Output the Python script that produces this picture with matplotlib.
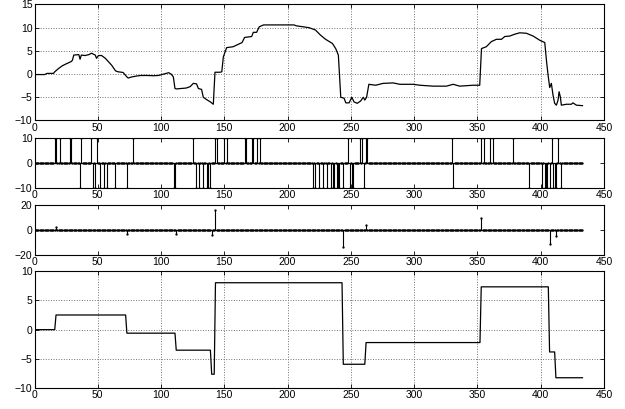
import numpy as np
import matplotlib
matplotlib.use('Agg')
import matplotlib.pyplot as plt

plt.rcParams['font.family'] = ['Liberation Sans', 'DejaVu Sans']
plt.rcParams['font.size'] = 7.5

# raw signal, knots
raw_x = [0, 8, 10, 15, 16, 19, 22, 25, 29, 30, 31, 35, 36, 37, 40, 43, 45, 48, 49, 50.5, 53,
         56, 58, 61, 64, 66, 70, 73, 74, 77, 81, 84, 89, 94, 98, 102, 106, 108, 109.7, 111, 112,
         120, 123, 125.5, 128, 129.5, 132, 133.4, 136, 139, 141.3, 142.6, 146.6, 148, 149.2,
         151.8, 157, 161, 164, 166, 171.6, 172.9, 175.5, 177.6, 181, 190, 205, 207, 211.8, 217,
         222, 226, 230, 235.4, 238, 240.1, 241.2, 242, 244.6, 246, 248.6, 250.7, 252.5, 255,
         257.7, 259.8, 261, 262.4, 264.2, 269.6, 275.5, 283.4, 288.7, 299.2, 304.5, 315, 325.5,
         330.8, 336, 346.6, 351.8, 353.2, 357, 361, 365, 369, 371.6, 375.5, 379.5, 383.4, 388.7,
         394, 399.2, 403.2, 404.5, 405.8, 407.1, 408.4, 409.7, 411, 412.4, 413.7, 414.5, 415.5,
         416.3, 420.3, 424.2, 425.5, 428.2, 433]
raw_y = [-0.1, -0.1, 0.15, 0.15, 0.5, 1.2, 1.8, 2.2, 2.7, 3.0, 4.1, 4.2, 3.2, 4.1, 4.0, 4.2, 4.5, 4.1,
         3.4, 4.0, 4.0, 3.4, 2.8, 1.9, 0.7, 0.5, 0.35, -0.6, -0.85, -0.6, -0.4, -0.3, -0.3, -0.35,
         -0.3, 0.0, 0.3, 0.0, -0.6, -3.1, -3.2, -3.0, -2.7, -2.0, -2.1, -3.1, -3.3, -5.0, -5.5,
         -6.0, -6.5, 0.4, 0.4, 0.5, 3.7, 5.7, 5.9, 6.4, 6.8, 7.9, 8.1, 9.0, 9.0, 10.2, 10.6,
         10.6, 10.6, 10.4, 10.2, 10.0, 9.5, 8.4, 7.5, 6.6, 5.5, 4.1, -1.3, -5.0, -5.2, -6.2,
         -6.2, -5.0, -6.0, -6.3, -5.8, -5.0, -5.6, -5.0, -2.2, -2.4, -2.0, -1.9, -2.2, -2.2,
         -2.4, -2.6, -2.6, -2.2, -2.6, -2.4, -2.4, 5.5, 5.9, 7.0, 7.5, 7.5, 8.1, 8.2, 8.6, 8.9,
         8.8, 8.2, 7.3, 6.8, 3.0, -0.2, -2.9, -2.0, -4.5, -6.3, -6.7, -5.6, -3.8, -4.9, -6.7,
         -6.5, -6.5, -6.2, -6.7, -6.8]

# event panel: samples at +10 and -10
n_samples = 434
up_idx = [16, 17, 20, 28, 29, 37, 45, 49, 78, 125, 143, 144, 150, 152, 166, 167, 172, 173,
          176, 178, 248, 257, 259, 262, 263, 330, 353, 355, 360, 362, 378, 409, 414]
down_idx = [36, 46, 48, 52, 55, 57, 64, 73, 110, 111, 128, 130, 133, 136, 137, 139, 220, 222,
            225, 228, 231, 234, 236, 237, 239, 240, 241, 244, 249, 251, 252, 260, 331, 391,
            401, 403, 404, 405, 407, 410, 411, 412, 416]

# piecewise constant fit
seg_start = [0, 17, 73, 112, 140, 143, 244, 262, 353, 407, 412]
seg_level = [0, 2.5, -0.6, -3.5, -7.6, 8.0, -5.9, -2.2, 7.3, -3.8, -8.2]

events = np.zeros(n_samples)
events[up_idx] = 10
events[down_idx] = -10

lengths = np.diff(seg_start + [n_samples])
steps = np.repeat(seg_level, lengths)
jumps = np.diff(steps, prepend=steps[0])
t = np.arange(n_samples)

fig = plt.figure(figsize=(6.25, 4.09), dpi=100)
L, W = 0.0552, 0.9112
ax1 = fig.add_axes([L, 0.7054, W, 0.2836])
ax2 = fig.add_axes([L, 0.5403, W, 0.1223])
ax3 = fig.add_axes([L, 0.3765, W, 0.1223])
ax4 = fig.add_axes([L, 0.0506, W, 0.2868])

ax1.plot(raw_x, raw_y, color='k', lw=0.9)

for ax, sig in ((ax2, events), (ax3, jumps)):
    ml, sl, bl = ax.stem(t, sig, linefmt='k-', markerfmt='k.', basefmt='k-')
    ml.set_markersize(1.3)
    sl.set_linewidth(0.8)
    bl.set_linewidth(0.9)
    bl.set_xdata([0, n_samples - 1])

ax4.plot(t, steps, color='k', lw=0.9)

ax1.set_ylim(-10, 15)
ax1.set_yticks([-10, -5, 0, 5, 10, 15])
ax2.set_ylim(-10, 10)
ax2.set_yticks([-10, 0, 10])
ax3.set_ylim(-20, 20)
ax3.set_yticks([-20, 0, 20])
ax4.set_ylim(-10, 10)
ax4.set_yticks([-10, -5, 0, 5, 10])

for ax in (ax1, ax2, ax3, ax4):
    ax.set_xlim(0, 450)
    ax.set_xticks(range(0, 451, 50))
    ax.tick_params(direction='in', top=True, right=True, length=3, width=0.6, pad=1.5,
                   labelsize=7.5)
    for s in ax.spines.values():
        s.set_linewidth(0.8)

for ax in (ax1, ax4):
    ax.grid(True, linestyle=':', color='0.45', lw=0.7)

fig.savefig('out.png', dpi=100)
